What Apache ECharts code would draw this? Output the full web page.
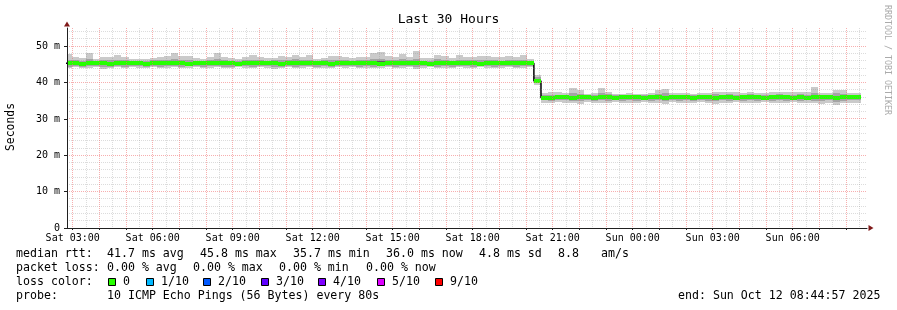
<!DOCTYPE html>
<html>
<head>
<meta charset="utf-8">
<script src="https://cdn.jsdelivr.net/npm/echarts@6/dist/echarts.min.js"></script>
<style>
html,body{margin:0;padding:0;background:#fff;}
#chart{width:897px;height:310px;}
</style>
</head>
<body>
<div id="chart"></div>
<script>
// ---- time: hours since Sat 2025-10-11 00:00; 30-hour window, 16-minute buckets ----
const X_MIN = 2.786;                          // left edge of the plot (~Sat 02:47)
const X_MAX = X_MIN + 30;
const BUCKET_START = 2.694;                   // start of first (partly hidden) bucket
const BUCKET_STEP = 16 / 60;

// ---- axis ticks / labels / grid ----
const X_LABEL_HOURS = [3, 6, 9, 12, 15, 18, 21, 24, 27, 30];
const X_LABELS = ['Sat 03:00', 'Sat 06:00', 'Sat 09:00', 'Sat 12:00', 'Sat 15:00', 'Sat 18:00', 'Sat 21:00', 'Sun 00:00', 'Sun 03:00', 'Sun 06:00'];
const X_MAJOR_HOURS = [3,4,5,6,7,8,9,10,11,12,13,14,15,16,17,18,19,20,21,22,23,24,25,26,27,28,29,30,31,32];
const X_MINOR_HOURS = [3.5,4.5,5.5,6.5,7.5,8.5,9.5,10.5,11.5,12.5,13.5,14.5,15.5,16.5,17.5,18.5,19.5,20.5,21.5,22.5,23.5,24.5,25.5,26.5,27.5,28.5,29.5,30.5,31.5,32.5];
const Y_MAJOR = [0, 10, 20, 30, 40, 50];
const Y_LABELS = ['0', '10 m', '20 m', '30 m', '40 m', '50 m'];
const Y_GRID_MAJOR = [10, 20, 30, 40, 50];
const Y_GRID_MINOR = [2,4,6,8,12,14,16,18,22,24,26,28,32,34,36,38,42,44,46,48,52,54];

// ---- data (ms) per bucket ----
const MEDIAN = [
45.3,45.3,45.2,45.4,45.3,45.3,45.2,45.3,45.4,45.3,
45.3,45.2,45.3,45.3,45.4,45.3,45.3,45.2,45.3,45.3,
45.4,45.3,45.3,45.3,45.2,45.3,45.3,45.4,45.3,45.3,
45.2,45.3,45.3,45.3,45.4,45.3,45.3,45.2,45.3,45.3,
45.3,45.4,45.3,45.3,45.2,45.3,45.3,45.3,45.4,45.3,
45.3,45.2,45.3,45.3,45.3,45.4,45.3,45.3,45.2,45.3,
45.3,45.3,45.4,45.3,45.3,45.3,
40.4,
35.8,35.7,35.9,36.1,35.8,35.9,36.1,35.8,35.9,36.1,
35.8,35.9,36.1,35.9,35.8,36.1,35.9,35.8,35.9,36.1,
35.9,35.8,36.1,35.9,35.7,35.9,36.1,35.8,35.9,35.9,
36.1,35.8,35.9,36.1,35.9,35.8,35.9,35.7,35.9,36.1,
35.9,35.8,35.9,35.9,36.0];
const PING_MAX = [
47.8,47.0,46.8,48.0,46.6,46.9,47.1,47.6,46.9,46.5,
46.6,46.4,46.7,46.9,47.3,48.0,47.3,47.2,46.8,46.5,
46.9,48.0,46.9,46.8,46.6,47.0,47.5,47.0,46.7,46.8,
47.3,46.9,47.7,46.9,47.5,46.6,46.8,47.4,47.3,47.0,
46.8,47.0,46.9,48.2,48.5,47.2,47.0,47.9,46.9,48.8,
46.8,46.7,47.7,47.3,46.8,47.6,47.1,46.9,47.3,47.4,
47.0,46.9,47.2,47.0,47.5,46.5,
42.0,
37.2,37.3,37.3,37.0,38.6,38.0,36.9,37.0,38.6,37.5,
36.9,36.8,37.2,36.9,36.9,37.0,38.0,38.3,37.0,37.0,
37.2,36.9,37.2,37.0,37.5,37.5,37.4,37.5,37.2,37.5,
37.0,37.0,37.4,37.5,37.3,37.5,37.5,37.4,38.8,37.2,
37.1,37.9,37.9,37.0,37.0];
const PING_MIN = [
44.0,44.2,43.9,44.1,44.2,43.8,44.1,44.2,44.0,44.2,
44.1,43.9,44.2,44.0,44.1,44.2,43.9,44.1,44.2,44.0,
44.1,44.2,44.0,43.9,44.2,44.1,44.0,44.2,44.1,43.8,
44.1,44.2,44.0,44.1,44.2,43.9,44.1,44.0,44.2,44.1,
44.2,44.0,44.1,43.9,44.1,44.2,44.0,44.1,44.2,43.8,
44.1,44.2,44.0,44.1,43.9,44.2,44.1,44.0,44.2,44.1,
43.9,44.1,44.2,44.0,44.1,44.2,
39.4,
34.5,34.3,34.6,34.4,34.5,34.2,34.6,34.4,34.5,34.3,
34.6,34.4,34.5,34.3,34.6,34.4,34.5,34.2,34.6,34.4,
34.5,34.3,34.6,34.4,34.2,34.5,34.4,34.6,34.3,34.5,
34.4,34.6,34.3,34.5,34.4,34.6,34.3,34.5,34.4,34.2,
34.5,33.8,34.3,34.5,34.4];
const PING_HI2 = [
46.3,46.1,46.0,46.4,46.0,46.2,46.1,46.3,46.1,45.9,
46.0,45.9,46.1,46.2,46.3,46.4,46.2,46.2,46.0,45.9,
46.2,46.4,46.1,46.0,46.0,46.2,46.3,46.1,46.0,46.1,
46.3,46.1,46.4,46.1,46.3,46.0,46.1,46.3,46.2,46.2,
46.0,46.2,46.1,46.5,46.6,46.2,46.1,46.4,46.1,46.6,
46.0,46.0,46.4,46.2,46.0,46.3,46.2,46.1,46.2,46.3,
46.1,46.0,46.2,46.1,46.3,45.9,
41.5,
36.6,36.5,36.7,36.6,37.0,36.9,36.6,36.5,37.0,36.8,
36.5,36.5,36.7,36.6,36.5,36.7,36.9,37.0,36.6,36.6,
36.7,36.5,36.7,36.6,36.8,36.7,36.8,36.7,36.6,36.8,
36.7,36.5,36.7,36.8,36.6,36.7,36.8,36.6,37.1,36.7,
36.6,37.0,36.9,36.6,36.6];
const PING_LO2 = [
44.4,44.5,44.3,44.5,44.6,44.3,44.4,44.5,44.4,44.6,
44.5,44.3,44.6,44.4,44.5,44.6,44.3,44.5,44.6,44.4,
44.5,44.6,44.4,44.3,44.6,44.5,44.4,44.6,44.5,44.3,
44.4,44.6,44.4,44.5,44.6,44.3,44.5,44.4,44.6,44.5,
44.6,44.4,44.5,44.3,44.5,44.6,44.4,44.5,44.6,44.3,
44.5,44.6,44.4,44.5,44.3,44.6,44.5,44.4,44.6,44.5,
44.3,44.5,44.6,44.4,44.5,44.6,
39.8,
35.1,34.9,35.2,35.1,35.0,34.9,35.2,35.0,35.1,34.9,
35.2,35.0,35.1,34.9,35.2,35.0,35.1,34.9,35.2,35.0,
35.1,34.9,35.2,35.0,34.8,35.1,35.0,35.2,34.9,35.1,
35.0,35.2,34.9,35.1,35.0,35.2,34.9,35.1,35.0,34.9,
35.1,34.7,35.0,35.1,35.1];
const PING_HI3 = [
45.8,45.7,45.6,45.9,45.7,45.8,45.6,45.8,45.8,45.7,
45.7,45.6,45.7,45.8,45.9,45.8,45.7,45.7,45.7,45.6,
45.9,45.8,45.7,45.7,45.6,45.8,45.8,45.8,45.7,45.7,
45.7,45.7,45.8,45.7,45.9,45.6,45.7,45.7,45.8,45.7,
45.7,45.9,45.7,45.9,45.8,45.8,45.7,45.8,45.8,45.9,
45.7,45.6,45.8,45.8,45.7,45.9,45.7,45.7,45.7,45.8,
45.7,45.7,45.8,45.7,45.8,45.6,
40.9,
36.2,36.1,36.3,36.4,36.4,36.3,36.4,36.2,36.4,36.4,
36.2,36.2,36.4,36.3,36.2,36.4,36.4,36.4,36.3,36.4,
36.3,36.2,36.4,36.3,36.2,36.3,36.5,36.2,36.3,36.3,
36.4,36.2,36.3,36.5,36.3,36.2,36.3,36.2,36.5,36.4,
36.3,36.4,36.4,36.3,36.4];
const PING_LO3 = [
44.9,45.0,44.8,45.0,44.9,44.8,44.7,45.0,44.9,45.0,
44.9,44.8,45.0,44.9,45.0,44.9,44.8,44.7,45.0,44.9,
45.0,44.9,44.8,44.9,44.7,45.0,44.9,45.0,44.8,44.9,
44.7,44.9,45.0,44.9,45.0,44.8,44.9,44.7,44.9,45.0,
44.9,45.0,44.8,44.9,44.7,44.9,45.0,44.9,45.0,44.8,
44.9,44.7,45.0,44.9,44.8,45.0,44.9,45.0,44.7,44.9,
44.8,44.9,45.0,44.9,44.8,45.0,
40.0,
35.4,35.2,35.5,35.6,35.3,35.5,35.6,35.3,35.5,35.6,
35.3,35.5,35.6,35.4,35.3,35.6,35.5,35.3,35.4,35.6,
35.5,35.3,35.6,35.4,35.2,35.5,35.6,35.3,35.4,35.5,
35.6,35.3,35.5,35.6,35.4,35.3,35.5,35.2,35.5,35.6,
35.4,35.3,35.5,35.4,35.5];

// ---- legend texts ----
const LEGEND_RTT = [['median rtt:', 16], ['41.7 ms avg', 107], ['45.8 ms max', 200], ['35.7 ms min', 293], ['36.0 ms now', 386], ['4.8 ms sd', 479], ['8.8', 558], ['am/s', 601]];
const LEGEND_LOSS = [['packet loss:', 16], ['0.00 % avg', 107], ['0.00 % max', 193], ['0.00 % min', 279], ['0.00 % now', 366]];
const LOSS_LABELS = ['0', '1/10', '2/10', '3/10', '4/10', '5/10', '9/10'];
const LOSS_COLORS = ['#26ff00', '#00b8ff', '#0059ff', '#5e00ff', '#7e00ff', '#dd00ff', '#ff0000'];
const LOSS_SWATCH_X = [108, 146, 203, 261, 318, 377, 435];
const PROBE_TEXT = '10 ICMP Echo Pings (56 Bytes) every 80s';
const END_TEXT = 'end: Sun Oct 12 08:44:57 2025';
const TITLE = 'Last 30 Hours';

// ---- styles ----
const MONO = '"DejaVu Sans Mono", monospace';
const SMOKE_COLORS = ['#cacaca', '#a4a4a4', '#5e5e5e'];
const MEDIAN_COLOR = LOSS_COLORS[0];
const RED_GRID = 'rgba(240,110,110,0.55)';
const GREY_GRID = 'rgba(140,140,140,0.3)';
const AXIS_COLOR = '#202020';
const ARROW_COLOR = '#801a1a';

const rows = MEDIAN.map((m, i) => [
  BUCKET_START + i * BUCKET_STEP, BUCKET_START + (i + 1) * BUCKET_STEP,
  PING_MIN[i], PING_MAX[i], PING_LO2[i], PING_HI2[i], PING_LO3[i], PING_HI3[i], m
]);
const medLine = rows.map(r => [r[0], r[8]]);
medLine.push([rows[rows.length - 1][1], rows[rows.length - 1][8]]);

function smokeItem(params, api) {
  const t0 = api.value(0), t1 = api.value(1);
  const x0 = Math.round(api.coord([t0, 0])[0]);
  const x1 = Math.round(api.coord([t1, 0])[0]);
  const band = (lo, hi, fill) => {
    const yt = Math.round(api.coord([t0, hi])[1]);
    const yb = Math.round(api.coord([t0, lo])[1]);
    return { type: 'rect', shape: { x: x0, y: yt, width: x1 - x0, height: Math.max(yb - yt, 0) }, style: { fill: fill } };
  };
  return { type: 'group', children: [
    band(api.value(2), api.value(3), SMOKE_COLORS[0]),
    band(api.value(4), api.value(5), SMOKE_COLORS[1]),
    band(api.value(6), api.value(7), SMOKE_COLORS[2])
  ]};
}
function medianItem(params, api) {
  const t0 = api.value(0), t1 = api.value(1);
  const x0 = Math.round(api.coord([t0, 0])[0]);
  const x1 = Math.round(api.coord([t1, 0])[0]);
  const yc = api.coord([t0, api.value(8)])[1];
  return { type: 'rect', shape: { x: x0, y: Math.round(yc - 2), width: x1 - x0, height: 4 }, style: { fill: MEDIAN_COLOR } };
}
function vGrid(color) {
  return function (params, api) {
    const cs = params.coordSys;
    const x = Math.floor(api.coord([api.value(0), 0])[0]) + 0.5;
    return { type: 'line', shape: { x1: x, y1: cs.y, x2: x, y2: cs.y + cs.height },
      style: { stroke: color, lineWidth: 1, lineDash: [1, 1] } };
  };
}
function hGrid(color) {
  return function (params, api) {
    const cs = params.coordSys;
    const y = Math.floor(api.coord([X_MIN, api.value(1)])[1]) + 0.5;
    return { type: 'line', shape: { x1: cs.x, y1: y, x2: cs.x + cs.width, y2: y },
      style: { stroke: color, lineWidth: 1, lineDash: [1, 1] } };
  };
}

const graphic = [];
const txt = (text, x, y, opt) => Object.assign({ type: 'text', x: x, y: y, silent: true,
  style: Object.assign({ text: text, font: '11.6px ' + MONO, fill: '#000', align: 'left', verticalAlign: 'middle' }, (opt && opt.style) || {}) },
  opt && opt.rotation !== undefined ? { rotation: opt.rotation } : {});
graphic.push(txt(TITLE, 448.5, 20, { style: { font: '13px ' + MONO, align: 'center' } }));
graphic.push(txt('Seconds', 11, 127, { rotation: Math.PI / 2, style: { font: '11.4px ' + MONO, align: 'center' } }));
graphic.push(txt('RRDTOOL / TOBI OETIKER', 887, 60, { rotation: -Math.PI / 2, style: { font: '8.3px ' + MONO, align: 'center', fill: '#aaaaaa' } }));
LEGEND_RTT.forEach(([t, x]) => graphic.push(txt(t, x, 254)));
LEGEND_LOSS.forEach(([t, x]) => graphic.push(txt(t, x, 268)));
graphic.push(txt('loss color:', 16, 282));
LOSS_LABELS.forEach((t, i) => {
  graphic.push({ type: 'rect', silent: true, shape: { x: LOSS_SWATCH_X[i] + 0.5, y: 278.5, width: 7, height: 7 }, style: { fill: LOSS_COLORS[i], stroke: '#000', lineWidth: 1 } });
  graphic.push(txt(t, LOSS_SWATCH_X[i] + 15, 282));
});
graphic.push(txt('probe:', 16, 296));
graphic.push(txt(PROBE_TEXT, 107, 296));
graphic.push(txt(END_TEXT, 678, 296));

const chart = echarts.init(document.getElementById('chart'), null, { renderer: 'canvas' });
chart.setOption({
  animation: false,
  backgroundColor: '#ffffff',
  grid: { left: 67, right: 30, top: 28, bottom: 82 },
  xAxis: [
    { type: 'value', min: X_MIN, max: X_MAX, position: 'bottom', z: 12,
      axisLine: { show: true, onZero: false, lineStyle: { color: AXIS_COLOR, width: 1 } },
      axisTick: { show: true, customValues: X_MAJOR_HOURS, length: 2, lineStyle: { color: AXIS_COLOR } },
      axisLabel: { customValues: X_LABEL_HOURS, margin: 5, fontFamily: MONO, fontSize: 10, color: '#000',
        formatter: v => X_LABELS[X_LABEL_HOURS.indexOf(Math.round(v))] || '' },
      splitLine: { show: false }, minorSplitLine: { show: false } },
    { type: 'value', min: X_MIN, max: X_MAX, position: 'bottom', z: 13,
      axisLabel: { show: false }, axisTick: { show: false }, splitLine: { show: false },
      axisLine: { show: true, onZero: false, symbol: ['none', 'triangle'], symbolSize: [6, 5], symbolOffset: [0, 4],
        lineStyle: { color: ARROW_COLOR, width: 0 } } }
  ],
  yAxis: [
    { type: 'value', min: 0, max: 55, position: 'left', z: 12,
      axisLine: { show: true, onZero: false, lineStyle: { color: AXIS_COLOR, width: 1 } },
      axisTick: { show: true, customValues: Y_MAJOR, length: 3, lineStyle: { color: AXIS_COLOR } },
      axisLabel: { customValues: Y_MAJOR, margin: 7, fontFamily: MONO, fontSize: 10, color: '#000',
        formatter: v => Y_LABELS[Y_MAJOR.indexOf(Math.round(v))] || '' },
      splitLine: { show: false }, minorSplitLine: { show: false } },
    { type: 'value', min: 0, max: 55, position: 'left', z: 13,
      axisLabel: { show: false }, axisTick: { show: false }, splitLine: { show: false },
      axisLine: { show: true, onZero: false, symbol: ['none', 'triangle'], symbolSize: [6, 5], symbolOffset: [0, 4],
        lineStyle: { color: ARROW_COLOR, width: 0 } } }
  ],
  series: [
    { type: 'custom', name: 'smoke', data: rows, renderItem: smokeItem, clip: true, z: 2,
      encode: { x: [0, 1], y: [2, 3] }, silent: true },
    { type: 'line', name: 'median', data: medLine, step: 'end', symbol: 'none', clip: true, z: 3,
      lineStyle: { color: '#000', width: 1.5 }, silent: true },
    { type: 'custom', name: 'median loss 0', data: rows, renderItem: medianItem, clip: true, z: 4,
      encode: { x: [0, 1], y: 8 }, silent: true },
    { type: 'custom', name: 'grid minor x', data: X_MINOR_HOURS.map(h => [h, 0]), renderItem: vGrid(GREY_GRID),
      clip: true, z: 6, encode: { x: 0, y: 1 }, silent: true },
    { type: 'custom', name: 'grid minor y', data: Y_GRID_MINOR.map(v => [X_MIN, v]), renderItem: hGrid(GREY_GRID),
      clip: true, z: 6, encode: { x: 0, y: 1 }, silent: true },
    { type: 'custom', name: 'grid major x', data: X_MAJOR_HOURS.map(h => [h, 0]), renderItem: vGrid(RED_GRID),
      clip: true, z: 7, encode: { x: 0, y: 1 }, silent: true },
    { type: 'custom', name: 'grid major y', data: Y_GRID_MAJOR.map(v => [X_MIN, v]), renderItem: hGrid(RED_GRID),
      clip: true, z: 7, encode: { x: 0, y: 1 }, silent: true }
  ],
  graphic: graphic
});
</script>
</body>
</html>
